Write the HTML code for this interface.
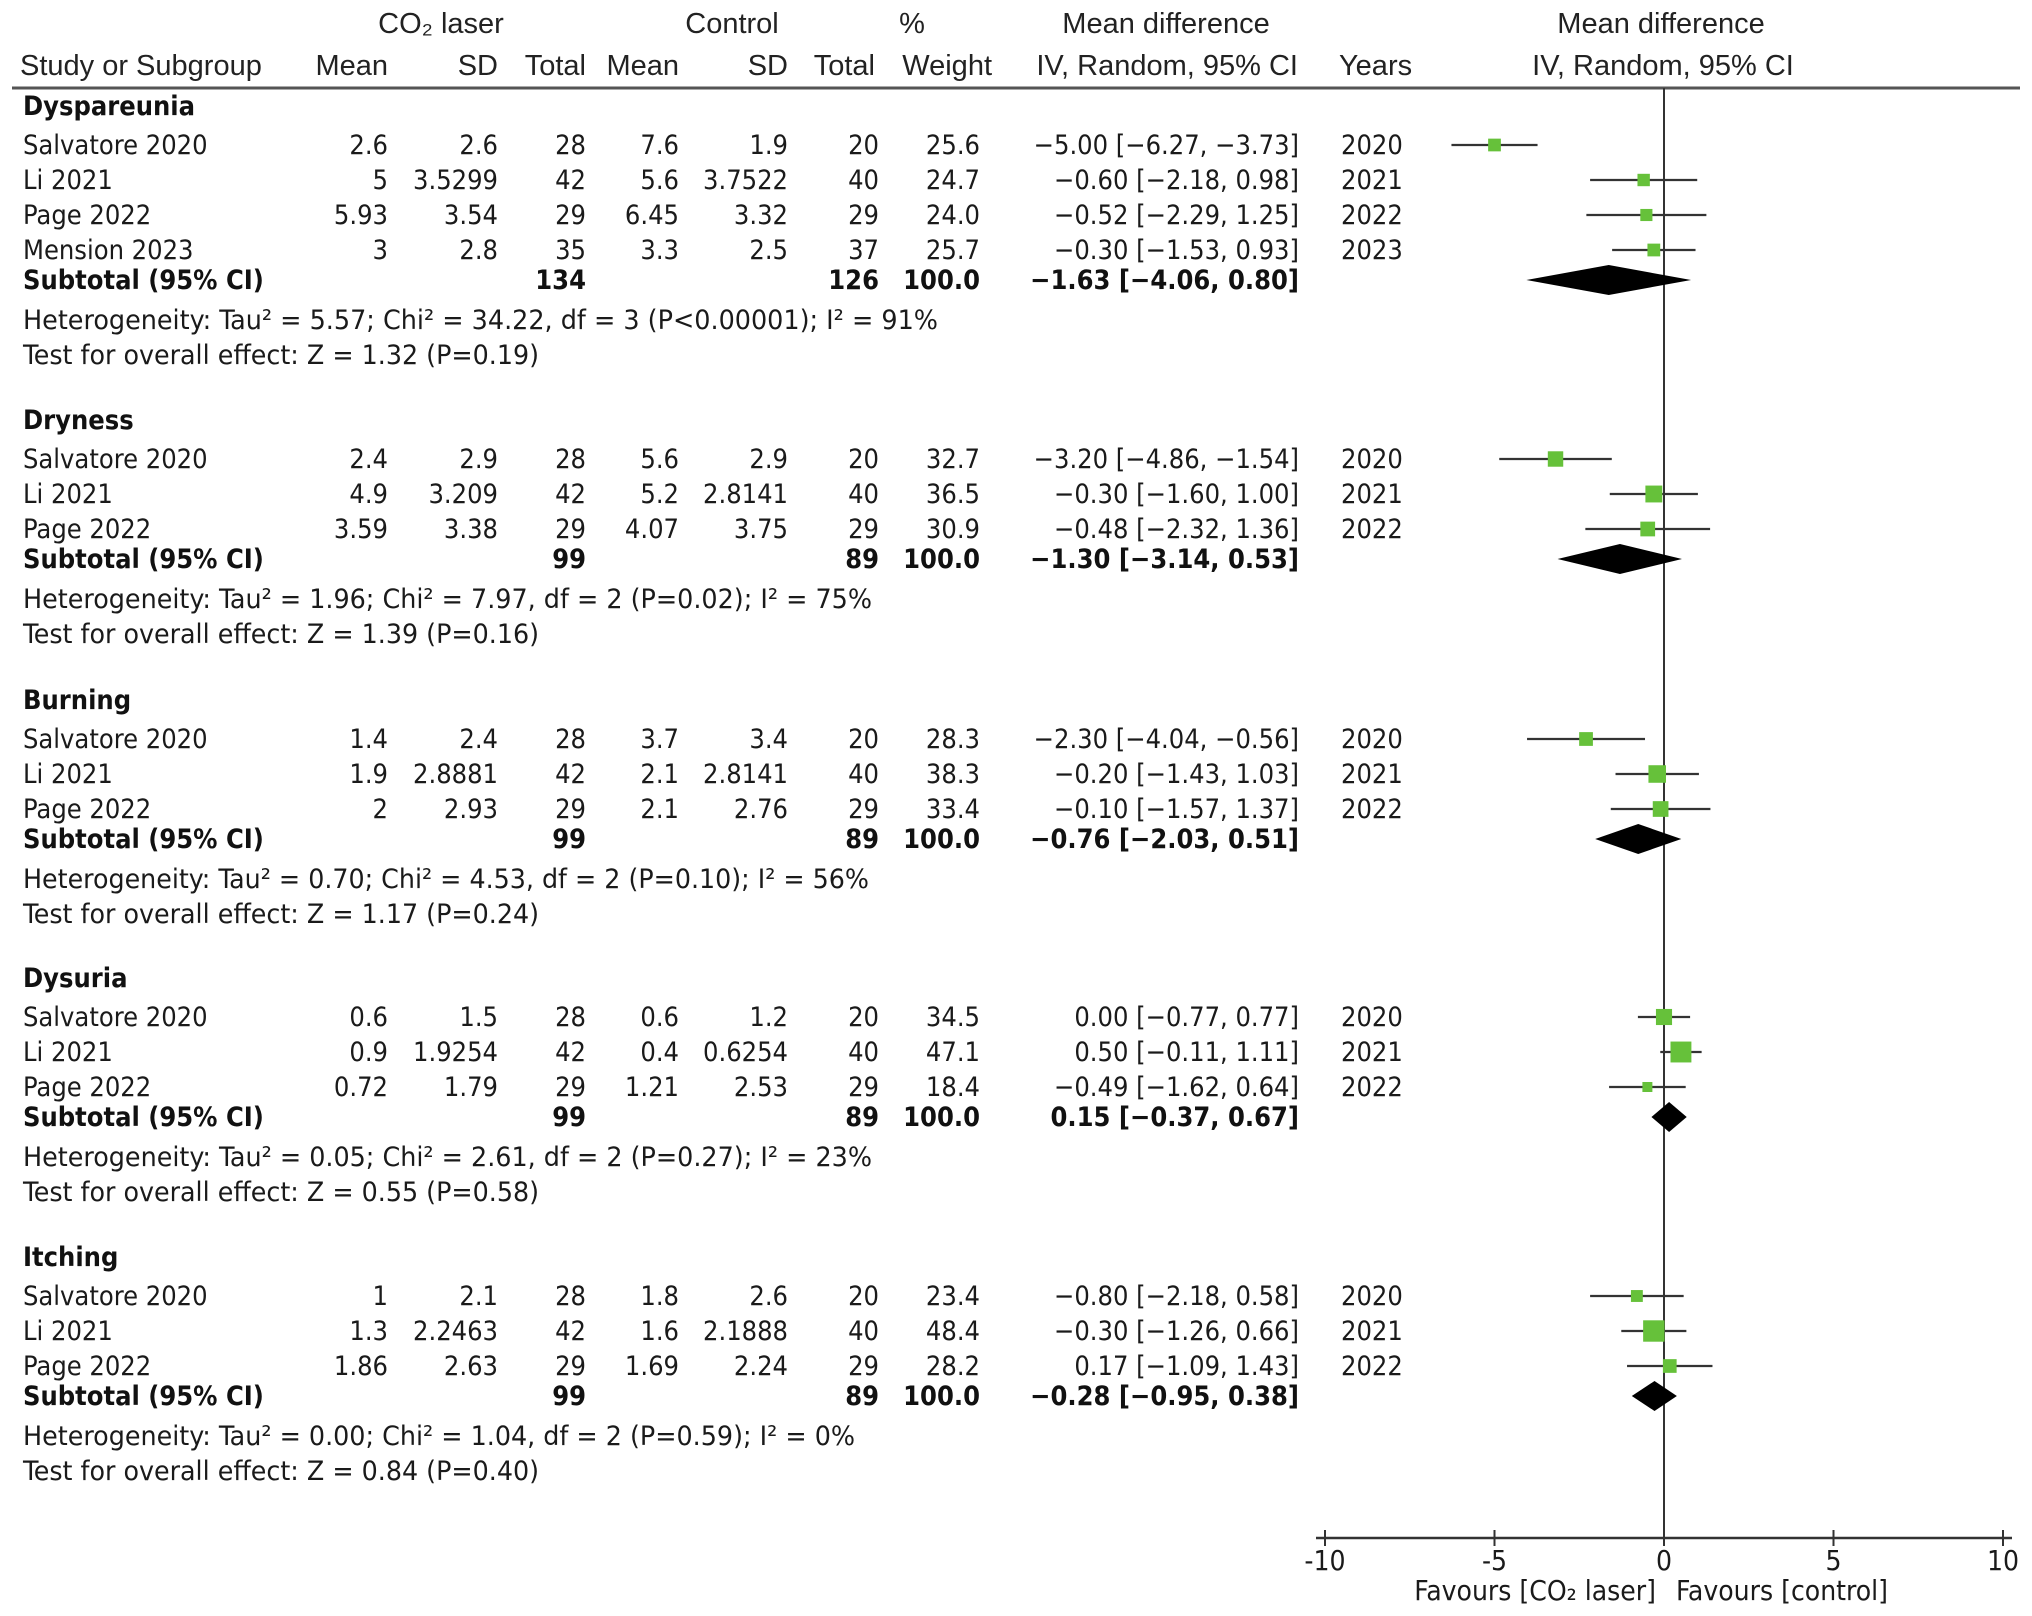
<!DOCTYPE html>
<html><head><meta charset="utf-8"><title>Forest plot</title>
<style>
html,body{margin:0;padding:0;background:#fff;}
svg{display:block;}
.h{font-family:"Liberation Sans Narrow","Liberation Sans",sans-serif;font-size:29px;fill:#222;}
.t{font-family:"DejaVu Sans Condensed","DejaVu Sans","Liberation Sans",sans-serif;font-size:27px;fill:#1a1a1a;}
.a{font-size:28px;}
.b{font-weight:bold;fill:#111;}
</style></head>
<body>
<svg id="plot" width="2032" height="1616" viewBox="0 0 2032 1616" xmlns="http://www.w3.org/2000/svg">
<g id="hdr">
<text class="h" x="441" y="33" text-anchor="middle">CO₂  laser</text>
<text class="h" x="732" y="33" text-anchor="middle">Control</text>
<text class="h" x="912" y="33" text-anchor="middle">%</text>
<text class="h" x="1166" y="33" text-anchor="middle">Mean difference</text>
<text class="h" x="1661" y="33" text-anchor="middle">Mean difference</text>
<text class="h" x="20" y="75">Study or Subgroup</text>
<text class="h" x="388" y="75" text-anchor="end">Mean</text>
<text class="h" x="498" y="75" text-anchor="end">SD</text>
<text class="h" x="586" y="75" text-anchor="end">Total</text>
<text class="h" x="679" y="75" text-anchor="end">Mean</text>
<text class="h" x="788" y="75" text-anchor="end">SD</text>
<text class="h" x="875" y="75" text-anchor="end">Total</text>
<text class="h" x="992" y="75" text-anchor="end">Weight</text>
<text class="h" x="1298" y="75" text-anchor="end">IV, Random, 95% CI</text>
<text class="h" x="1339" y="75">Years</text>
<text class="h" x="1663" y="75" text-anchor="middle">IV, Random, 95% CI</text>
<line x1="12" y1="88" x2="2020" y2="88" stroke="#555" stroke-width="3"/>
</g>
<g id="body"></g>
<g id="marks"></g>
<g id="axis"></g>
</svg>
<script>
const groupNames = ["Dyspareunia","Dryness","Burning","Dysuria","Itching"];
const groupTitleY = [106,420,700,978,1257];
const studyNames = [
 ["Salvatore 2020","Li 2021","Page 2022","Mension 2023"],
 ["Salvatore 2020","Li 2021","Page 2022"],
 ["Salvatore 2020","Li 2021","Page 2022"],
 ["Salvatore 2020","Li 2021","Page 2022"],
 ["Salvatore 2020","Li 2021","Page 2022"]];
const mean1 = [["2.6","5","5.93","3"],["2.4","4.9","3.59"],["1.4","1.9","2"],["0.6","0.9","0.72"],["1","1.3","1.86"]];
const sd1 = [["2.6","3.5299","3.54","2.8"],["2.9","3.209","3.38"],["2.4","2.8881","2.93"],["1.5","1.9254","1.79"],["2.1","2.2463","2.63"]];
const total1 = [["28","42","29","35"],["28","42","29"],["28","42","29"],["28","42","29"],["28","42","29"]];
const mean2 = [["7.6","5.6","6.45","3.3"],["5.6","5.2","4.07"],["3.7","2.1","2.1"],["0.6","0.4","1.21"],["1.8","1.6","1.69"]];
const sd2 = [["1.9","3.7522","3.32","2.5"],["2.9","2.8141","3.75"],["3.4","2.8141","2.76"],["1.2","0.6254","2.53"],["2.6","2.1888","2.24"]];
const total2 = [["20","40","29","37"],["20","40","29"],["20","40","29"],["20","40","29"],["20","40","29"]];
const weights = [[25.6,24.7,24.0,25.7],[32.7,36.5,30.9],[28.3,38.3,33.4],[34.5,47.1,18.4],[23.4,48.4,28.2]];
const estimates = [[-5.00,-0.60,-0.52,-0.30],[-3.20,-0.30,-0.48],[-2.30,-0.20,-0.10],[0.00,0.50,-0.49],[-0.80,-0.30,0.17]];
const ciLow = [[-6.27,-2.18,-2.29,-1.53],[-4.86,-1.60,-2.32],[-4.04,-1.43,-1.57],[-0.77,-0.11,-1.62],[-2.18,-1.26,-1.09]];
const ciHigh = [[-3.73,0.98,1.25,0.93],[-1.54,1.00,1.36],[-0.56,1.03,1.37],[0.77,1.11,0.64],[0.58,0.66,1.43]];
const years = [["2020","2021","2022","2023"],["2020","2021","2022"],["2020","2021","2022"],["2020","2021","2022"],["2020","2021","2022"]];
const subTotal1 = ["134","99","99","99","99"];
const subTotal2 = ["126","89","89","89","89"];
const subEst = [-1.63,-1.30,-0.76,0.15,-0.28];
const subLow = [-4.06,-3.14,-2.03,-0.37,-0.95];
const subHigh = [0.80,0.53,0.51,0.67,0.38];
const hetText = [
 "Heterogeneity: Tau² = 5.57; Chi² = 34.22, df = 3 (P<0.00001); I² = 91%",
 "Heterogeneity: Tau² = 1.96; Chi² = 7.97, df = 2 (P=0.02); I² = 75%",
 "Heterogeneity: Tau² = 0.70; Chi² = 4.53, df = 2 (P=0.10); I² = 56%",
 "Heterogeneity: Tau² = 0.05; Chi² = 2.61, df = 2 (P=0.27); I² = 23%",
 "Heterogeneity: Tau² = 0.00; Chi² = 1.04, df = 2 (P=0.59); I² = 0%"];
const hetWidth = [915,849,846,849,832];
const testText = ["Test for overall effect: Z = 1.32 (P=0.19)","Test for overall effect: Z = 1.39 (P=0.16)","Test for overall effect: Z = 1.17 (P=0.24)","Test for overall effect: Z = 0.55 (P=0.58)","Test for overall effect: Z = 0.84 (P=0.40)"];
const tickValues = [-10,-5,0,5,10];
const tickLabels = ["-10","-5","0","5","10"];

const NS="http://www.w3.org/2000/svg";
const X0=1664, UNIT=33.9;
function xs(v){return X0+v*UNIT;}
function el(parent,tag,attrs,txt){const e=document.createElementNS(NS,tag);for(const k in attrs)e.setAttribute(k,attrs[k]);if(txt!==undefined)e.textContent=txt;parent.appendChild(e);return e;}
const body=document.getElementById('body'), marks=document.getElementById('marks'), axis=document.getElementById('axis');
function fmt(v){return (v<0?'−':'')+Math.abs(v).toFixed(2);}
function ciStr(e,l,h){return fmt(e)+' ['+fmt(l)+', '+fmt(h)+']';}
function txt(x,y,s,cls,anchor){return el(body,'text',{x:x,y:y,class:'t'+(cls?' '+cls:''),'text-anchor':anchor||'start'},s);}

const zl=el(marks,'line',{x1:xs(0),y1:88,x2:xs(0),y2:1538,stroke:'#333','stroke-width':2});



for(let g=0;g<groupNames.length;g++){
  const y0=groupTitleY[g];
  let t=txt(23,y0+9,groupNames[g],'b');
  
  
  const n=studyNames[g].length;
  for(let i=0;i<n;i++){
    const y=y0+39+i*35, ty=y+9;
    t=txt(23,ty,studyNames[g][i]);
    
    
    txt(388,ty,mean1[g][i],'','end');
    txt(498,ty,sd1[g][i],'','end');
    txt(586,ty,total1[g][i],'','end');
    txt(679,ty,mean2[g][i],'','end');
    txt(788,ty,sd2[g][i],'','end');
    txt(879,ty,total2[g][i],'','end');
    txt(980,ty,weights[g][i].toFixed(1),'','end');
    t=txt(1299,ty,ciStr(estimates[g][i],ciLow[g][i],ciHigh[g][i]),'','end');
    
    
    txt(1341,ty,years[g][i]);
    const ln=el(marks,'line',{x1:xs(ciLow[g][i]),y1:y,x2:xs(ciHigh[g][i]),y2:y,stroke:'#333','stroke-width':2.2});
    
    
    const s=0.38*weights[g][i]+3;
    const sq=el(marks,'rect',{x:xs(estimates[g][i])-s/2,y:y-s/2,width:s,height:s,fill:'#66c13a'});
    
    
  }
  const sy=y0+39+n*35-5, sty=sy+9;
  t=txt(23,sty,'Subtotal (95% CI)','b');
  
  
  txt(586,sty,subTotal1[g],'b','end');
  txt(879,sty,subTotal2[g],'b','end');
  txt(980,sty,'100.0','b','end');
  t=txt(1299,sty,ciStr(subEst[g],subLow[g],subHigh[g]),'b','end');
  
  
  const dh=15;
  const dm=el(marks,'polygon',{points:[xs(subLow[g])+','+sy, xs(subEst[g])+','+(sy-dh), xs(subHigh[g])+','+sy, xs(subEst[g])+','+(sy+dh)].join(' '),fill:'#000'});
  
  
  t=txt(23,sty+40,hetText[g]);
  t.setAttribute('textLength',hetWidth[g]);
  t.setAttribute('lengthAdjust','spacingAndGlyphs');
  
  
  t=txt(23,sty+75,testText[g]);
  t.setAttribute('textLength',516);
  t.setAttribute('lengthAdjust','spacingAndGlyphs');
  
  
}

const ax=el(axis,'line',{x1:1316,y1:1538,x2:2012,y2:1538,stroke:'#333','stroke-width':2.5});


for(let i=0;i<tickValues.length;i++){
  const x=xs(tickValues[i]);
  const tk=el(axis,'line',{x1:x,y1:1530,x2:x,y2:1546,stroke:'#333','stroke-width':2});
  
  
  const lb=el(axis,'text',{x:x,y:1570,class:'t a','text-anchor':'middle'},tickLabels[i]);
  
  
}
const fl=el(axis,'text',{x:1656,y:1600,class:'t a','text-anchor':'end'},'Favours [CO₂  laser]');


const fc=el(axis,'text',{x:1676,y:1600,class:'t a'},'Favours [control]');


</script>
</body></html>
